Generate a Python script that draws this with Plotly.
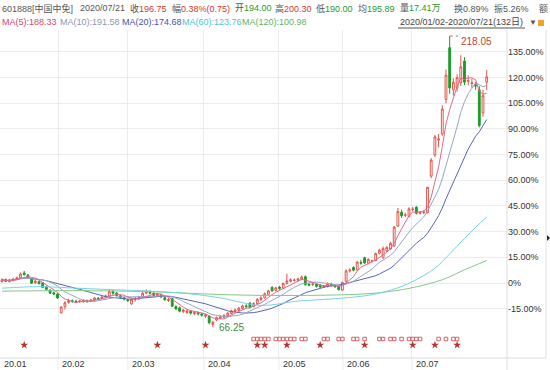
import numpy as np
import pandas as pd
import plotly.graph_objects as go

W, H = 550, 370
base = 89.30  # price at 0%

opens = [90.0, 91.0, 90.0, 90.5, 91.2, 92.0, 94.5, 93.4, 91.5, 89.4, 90.0, 89.5, 87.2, 85.6, 84.2, 83.5,
         73.7, 77.0, 79.2, 80.0, 79.6, 79.5, 79.5, 80.0, 79.8, 80.5, 81.3, 81.2, 82.0, 82.5, 84.8, 84.0, 82.6, 81.6, 80.6, 78.4,
         80.6, 81.0, 81.8, 84.0, 84.5, 84.0, 82.6, 83.2, 81.6, 80.2, 81.2, 77.0, 76.4, 74.4, 73.8, 74.6, 73.4, 73.8, 73.2, 72.0, 72.0, 67.6,
         70.0, 71.0, 71.4, 72.2, 73.4, 74.6, 75.0, 76.0, 77.4, 78.8, 77.0, 78.6, 80.6, 81.6, 83.4, 87.0, 85.4, 87.2, 86.6, 89.0, 90.2,
         90.6, 90.8, 91.2, 92.6, 88.6, 88.4, 88.6, 88.2, 87.2, 87.4, 88.6, 87.8, 87.6, 85.6, 90.2, 95.6, 97.4, 96.2,
         100.0, 102.4, 99.6, 100.6, 101.0, 104.8, 102.4, 106.0, 107.0, 108.6, 119.0, 126.2, 124.6, 124.0, 127.6, 128.8, 125.6, 126.0, 126.0, 145.0,
         156.0, 163.8, 167.0, 185.0, 212.0, 190.0, 191.0, 193.6, 205.0, 194.4, 193.2, 192.6, 190.0, 178.0, 194.00]
highs = [91.8, 91.6, 91.5, 92.0, 92.6, 94.8, 95.6, 94.0, 92.0, 90.8, 90.6, 89.8, 88.0, 86.0, 84.8, 84.0,
         77.2, 79.8, 81.0, 80.8, 80.6, 80.5, 80.8, 80.7, 81.0, 82.0, 82.0, 82.6, 83.2, 85.8, 85.6, 84.6, 83.2, 82.0, 81.0, 81.2,
         82.0, 82.4, 84.6, 86.0, 85.5, 84.5, 84.0, 83.8, 82.2, 81.4, 81.6, 77.6, 77.0, 75.8, 75.4, 75.2, 74.6, 74.4, 73.8, 73.2, 72.4, 69.6,
         71.8, 72.4, 73.0, 74.2, 75.4, 76.0, 76.8, 78.0, 78.2, 79.4, 79.2, 81.4, 82.4, 84.4, 85.8, 87.6, 87.4, 87.8, 89.6, 94.2, 91.8,
         91.6, 92.0, 93.2, 93.2, 89.2, 89.4, 89.0, 88.8, 88.2, 89.6, 89.4, 88.4, 88.0, 90.0, 96.4, 97.0, 98.0, 100.8,
         101.4, 103.0, 102.2, 101.4, 105.2, 107.2, 108.4, 108.6, 110.8, 119.0, 128.4, 127.6, 126.0, 128.8, 129.0, 129.4, 126.8, 127.2, 139.4, 154.4,
         166.4, 167.0, 182.0, 200.6, 218.05, 196.0, 198.0, 208.0, 207.0, 197.6, 195.8, 194.0, 192.0, 190.0, 200.30]
lows = [89.5, 89.8, 89.6, 90.2, 90.8, 91.6, 93.2, 91.8, 88.8, 88.9, 88.5, 86.6, 85.5, 83.5, 83.0, 81.0,
        73.5, 75.5, 78.5, 79.0, 78.8, 78.9, 79.0, 79.1, 79.3, 80.0, 80.4, 80.8, 81.5, 82.2, 83.2, 82.2, 81.0, 80.2, 79.4, 78.0,
        79.6, 80.6, 81.4, 83.5, 83.4, 82.0, 82.0, 81.4, 80.0, 79.4, 76.8, 75.2, 74.0, 73.6, 73.2, 72.8, 72.6, 72.4, 71.8, 71.2, 67.8, 66.25,
        69.4, 70.4, 70.8, 71.8, 73.0, 74.0, 74.6, 75.6, 76.4, 76.0, 76.6, 78.2, 80.0, 81.2, 83.0, 84.8, 85.0, 85.8, 86.2, 88.6, 89.6,
        90.0, 90.2, 90.8, 88.0, 87.6, 87.8, 87.0, 86.6, 86.8, 87.0, 87.4, 86.8, 85.4, 85.2, 90.0, 94.8, 95.4, 95.8,
        98.8, 99.2, 99.0, 100.0, 100.6, 104.2, 102.0, 105.6, 106.6, 108.2, 118.4, 123.2, 123.6, 123.4, 126.6, 125.0, 125.0, 125.2, 125.6, 144.0,
        155.0, 160.0, 166.0, 183.0, 188.0, 187.0, 189.0, 192.0, 192.5, 192.4, 191.0, 190.0, 170.4, 176.0, 190.00]
closes = [91.0, 90.2, 90.8, 91.3, 92.0, 94.0, 93.6, 92.2, 89.2, 90.3, 89.0, 87.0, 86.0, 84.0, 83.6, 81.5,
          76.8, 79.0, 80.2, 79.8, 79.4, 79.9, 80.2, 79.6, 80.4, 81.5, 81.0, 82.0, 82.5, 85.0, 84.0, 82.8, 81.8, 81.0, 80.2, 80.8,
          81.4, 81.8, 84.0, 85.0, 84.0, 82.8, 83.4, 82.0, 80.6, 80.8, 77.2, 75.8, 74.6, 75.2, 74.8, 73.6, 73.9, 73.2, 72.5, 72.6, 68.6, 68.8,
          71.2, 71.6, 72.4, 73.6, 74.8, 75.2, 76.2, 77.4, 77.0, 76.6, 78.6, 80.8, 81.6, 83.6, 85.2, 85.2, 86.8, 86.4, 89.0, 90.4, 91.0,
          90.8, 91.4, 92.4, 88.4, 88.2, 88.8, 87.6, 87.2, 87.6, 89.0, 88.0, 87.4, 85.8, 89.6, 95.6, 96.0, 96.0, 100.2,
          99.6, 99.8, 101.6, 100.8, 104.6, 106.4, 107.2, 107.8, 110.0, 118.4, 126.6, 124.4, 124.8, 128.0, 127.8, 125.6, 126.0, 126.2, 139.2, 153.4,
          165.5, 164.4, 180.0, 197.6, 191.0, 194.0, 196.4, 202.0, 194.0, 194.8, 193.6, 192.0, 171.4, 187.0, 196.75]

# long moving averages (day index, price)
ma60_idx = [0, 10, 20, 30, 40, 50, 59, 70, 80, 90, 100, 107, 112, 117, 121, 125, 128, 131]
ma60_val = [86.6, 87.4, 86.6, 85.8, 85.1, 83.8, 81.55, 77.6, 79.9, 81.1, 83.2, 86.8, 91.1, 97.0, 104.5, 112.5, 118.3, 123.76]
ma120_idx = [0, 20, 40, 60, 80, 100, 110, 119, 125, 131]
ma120_val = [85.05, 85.3, 84.8, 83.2, 82.8, 83.9, 86.5, 91.0, 96.2, 100.98]

pct_ticks = [-15, 0, 15, 30, 45, 60, 75, 90, 105, 120, 135]
month_labels = ["20.01", "20.02", "20.03", "20.04", "20.05", "20.06", "20.07"]
month_pos = [-0.54, 15.14, 34.05, 54.59, 74.86, 92.16, 110.81]

star_days = [6, 42, 55, 69, 71, 77, 86, 98, 111, 117, 123]
note_days = [68, 69, 70, 71, 72, 74, 75, 76, 77, 78, 79, 81, 82, 87, 88, 91, 92, 95, 96, 98,
             102, 103, 105, 106, 108, 110, 111, 112, 113, 118, 120, 122, 123]

C_UP = "#e0574f"
C_DN = "#1d9a2a"
C_MA5 = "#e06a8a"
C_MA10 = "#9aa6c0"
C_MA20 = "#5a64b8"
C_MA60 = "#79d3e2"
C_MA120 = "#86c886"
GRID = "#ececec"
FONT = "Liberation Sans, Noto Sans CJK SC, sans-serif"
FS = 9

n = len(closes)
idx = list(range(n))
cs = pd.Series(closes)
ma5 = cs.rolling(5, min_periods=1).mean()
ma10 = cs.rolling(10, min_periods=1).mean()
ma20 = cs.rolling(20, min_periods=1).mean()

fig = go.Figure()
for vals, col in [(ma20, C_MA20), (ma10, C_MA10), (ma5, C_MA5)]:
    fig.add_trace(go.Scatter(x=idx, y=vals, mode="lines", line=dict(color=col, width=1), hoverinfo="skip"))
fig.add_trace(go.Scatter(x=ma120_idx, y=ma120_val, mode="lines", line=dict(color=C_MA120, width=1, shape="spline", smoothing=1.0), hoverinfo="skip"))
fig.add_trace(go.Scatter(x=ma60_idx, y=ma60_val, mode="lines", line=dict(color=C_MA60, width=1, shape="spline", smoothing=1.0), hoverinfo="skip"))

fig.add_trace(go.Candlestick(
    x=idx, open=opens, high=highs, low=lows, close=closes,
    increasing=dict(line=dict(color=C_UP, width=1), fillcolor="#ffffff"),
    decreasing=dict(line=dict(color=C_DN, width=1), fillcolor=C_DN),
    whiskerwidth=0, hoverinfo="skip"))

# event rows at the bottom
fig.add_trace(go.Scatter(x=note_days, y=[2] * len(note_days), yaxis="y2", mode="markers",
                         marker=dict(symbol="square-open", size=3.5, color="#d46464", line=dict(width=1, color="#d46464")),
                         hoverinfo="skip"))
fig.add_trace(go.Scatter(x=star_days, y=[1] * len(star_days), yaxis="y2", mode="markers",
                         marker=dict(symbol="star", size=6, color="#b8312f"), hoverinfo="skip"))

x_dom = [0, 507 / W]
y_dom = [1 - 358 / H, 1 - 30 / H]

fig.update_layout(
    width=W, height=H, margin=dict(l=0, r=0, t=0, b=0),
    paper_bgcolor="white", plot_bgcolor="white", showlegend=False,
    font=dict(family=FONT, size=FS, color="#333"),
    xaxis=dict(domain=x_dom, range=[-0.54, 136.49], tickvals=month_pos, showticklabels=False,
               showgrid=True, gridcolor=GRID, gridwidth=1, zeroline=False, ticks="",
               rangeslider=dict(visible=False), fixedrange=True),
    yaxis=dict(domain=y_dom, range=[50.2, 221.2], side="right",
               tickvals=[base * (1 + p / 100) for p in pct_ticks],
               ticktext=[("0%" if p == 0 else f"{p:.2f}%") for p in pct_ticks],
               showgrid=True, gridcolor=GRID, zeroline=False, ticks="",
               tickfont=dict(family=FONT, size=FS, color="#333"), fixedrange=True),
    yaxis2=dict(domain=[1 - 358 / H, 1 - 330 / H], range=[-1.17, 3.5],
                anchor="x", visible=False, fixedrange=True),
)

shapes = []
shapes.append(dict(type="line", xref="paper", yref="paper", x0=507 / W, x1=507 / W, y0=0, y1=1 - 30 / H,
                   line=dict(color="#dcdcdc", width=1)))
shapes.append(dict(type="line", xref="paper", yref="paper", x0=0, x1=546 / W, y0=1 - 358 / H, y1=1 - 358 / H,
                   line=dict(color="#d8d8d8", width=1)))
shapes.append(dict(type="line", xref="paper", yref="paper", x0=546 / W, x1=546 / W, y0=1 - 358 / H, y1=1 - 30 / H,
                   line=dict(color="#e2e2e2", width=1)))
for mp in month_pos[1:]:
    shapes.append(dict(type="line", xref="x", yref="paper", x0=mp, x1=mp, y0=0, y1=1 - 358 / H,
                       line=dict(color=GRID, width=1)))
shapes.append(dict(type="line", xref="paper", yref="paper", x0=398 / W, x1=525 / W, y0=1 - 28 / H, y1=1 - 28 / H,
                   line=dict(color="#555", width=1)))
shapes.append(dict(type="rect", xref="paper", yref="paper", x0=538 / W, x1=544 / W, y0=1 - 26 / H, y1=1 - 20 / H,
                   fillcolor="#f2a22a", line=dict(width=0)))
# small scroll arrow on the right edge
shapes.append(dict(type="path", xref="paper", yref="paper",
                   path=f"M {547/W} {1-235/H} L {550/W} {1-238/H} L {547/W} {1-241/H} Z",
                   fillcolor="#222", line=dict(width=0)))
hi_i = int(np.argmax(highs))
lo_i = int(np.argmin(lows))
shapes.append(dict(type="line", xref="x", yref="y", x0=hi_i, x1=hi_i + 2.3, y0=highs[hi_i], y1=highs[hi_i],
                   line=dict(color="#c46a6a", width=1, dash="dot")))
fig.update_layout(shapes=shapes)

ann = []
def txt(px, py, text, color="#444", size=FS, anchor="left"):
    ann.append(dict(xref="paper", yref="paper", x=px / W, y=1 - py / H, text=text, showarrow=False,
                    xanchor=anchor, yanchor="middle", font=dict(family=FONT, size=size, color=color)))

RED = "#d23a30"
GRN = "#2a9a2a"
GRY = "#555"
def pair(label, value, col):
    return f"{label}<span style='color:{col}'>{value}</span>"

txt(0, 8, "601888[中国中免]", GRY)
txt(78, 8, "2020/07/21", GRY)
txt(128, 8, pair("收", "196.75", RED), GRY)
txt(170, 8, pair("幅", "0.38%(0.75)", RED), GRY)
txt(233, 8, pair("开", "194.00", GRN), GRY)
txt(273, 8, pair("高", "200.30", RED), GRY)
txt(314, 8, pair("低", "190.00", GRN), GRY)
txt(356, 8, pair("均", "195.89", GRN), GRY)
txt(398, 8, pair("量", "17.41万", GRN), GRY)
txt(452, 8, pair("换", "0.89%", GRY), GRY)
txt(492, 8, pair("振", "5.26%", GRY), GRY)
txt(537, 8, "额", GRY)

txt(0, 22, "MA(5):188.33", "#d9456e")
txt(58, 22, "MA(10):191.58", "#8a99b3")
txt(120, 22, "MA(20):174.68", "#3f55b5")
txt(180, 22, "MA(60):123.76", "#4fc3d6")
txt(240, 22, "MA(120):100.98", "#5fb55f")
txt(398, 22, "2020/01/02-2020/07/21(132日)", "#444")
txt(527, 22, "▼", "#555", size=8)

for lab, mp in zip(month_labels, month_pos):
    ann.append(dict(xref="x", yref="paper", x=mp, y=1 - 364 / H, text=lab, showarrow=False,
                    xanchor="left", yanchor="middle", xshift=2, font=dict(family=FONT, size=FS, color="#333")))

ann.append(dict(xref="x", yref="y", x=hi_i, y=highs[hi_i], text=f"{highs[hi_i]:.2f}", showarrow=False,
                xanchor="left", yanchor="middle", xshift=9, yshift=-5, font=dict(family=FONT, size=10, color="#c0443c")))
ann.append(dict(xref="x", yref="y", x=lo_i, y=lows[lo_i], text=f"{lows[lo_i]:.2f}", showarrow=False,
                xanchor="left", yanchor="middle", xshift=4, yshift=0, font=dict(family=FONT, size=10, color="#3d8a46")))
fig.update_layout(annotations=ann)

fig.write_html("out.html", config={"displayModeBar": False, "staticPlot": True},
               post_script="document.body.style.margin='0';document.body.style.overflow='hidden';")
